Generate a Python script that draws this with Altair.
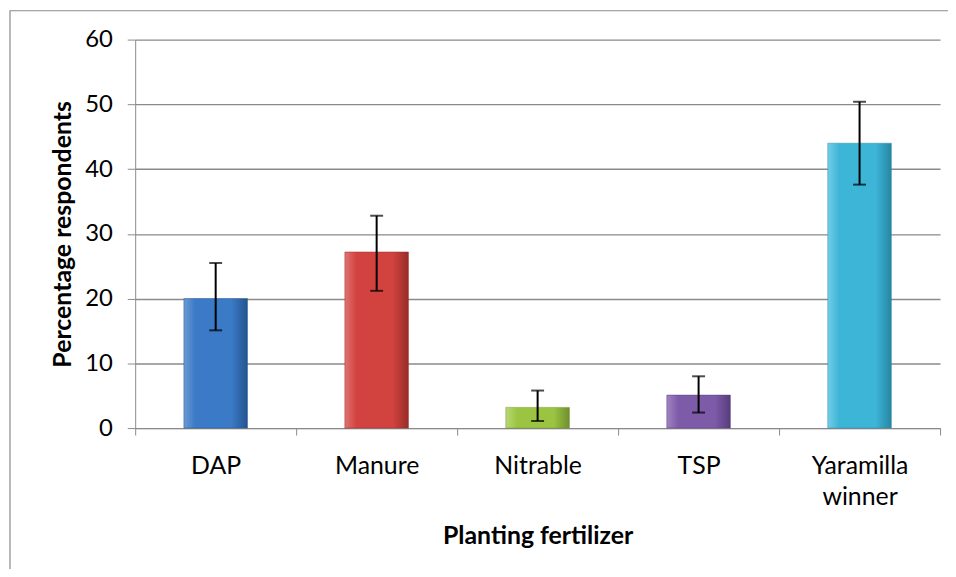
import altair as alt
import pandas as pd

categories = ["DAP", "Manure", "Nitrable", "TSP", "Yaramilla winner"]
values = [20.0, 27.2, 3.2, 5.1, 44.0]
err_low = [15.1, 21.2, 1.1, 2.4, 37.6]
err_high = [25.5, 32.8, 5.8, 8.0, 50.4]
colors = ["#3a7ac6", "#d2433f", "#9cc443", "#7e5ba9", "#3cb5d7"]
edge_light = ["#6b9ad3", "#e07370", "#b8d874", "#9f84c0", "#74cde6"]
edge_dark = ["#24548f", "#982c29", "#6f8f2c", "#573d7c", "#2786a2"]

df = pd.DataFrame({"cat": categories, "val": values, "lo": err_low, "hi": err_high})

FONT = "Lato"
GRAY = "#8a8a8a"

x_axis = alt.Axis(
    title="Planting fertilizer",
    labelAngle=0,
    labelExpr="split(datum.label, ' ')",
    labelFontSize=25,
    labelLineHeight=31,
    labelPadding=19,
    labelColor="#000000",
    labelFont=FONT,
    tickSize=7,
    tickBand="extent",
    tickColor=GRAY,
    domainColor=GRAY,
    titleFont=FONT,
    titleFontSize=25,
    titleFontWeight="bold",
    titleColor="#000000",
    titleY=108,
    titleBaseline="middle",
    grid=False,
)
x_scale = alt.Scale(domain=categories, paddingInner=0, paddingOuter=0)
y_scale = alt.Scale(domain=[0, 60], nice=False)

y_axis = alt.Axis(
    title="Percentage respondents",
    values=[0, 10, 20, 30, 40, 50, 60],
    labelFontSize=24,
    labelFont=FONT,
    labelColor="#000000",
    labelPadding=15,
    tickSize=8,
    tickColor=GRAY,
    domainColor=GRAY,
    gridColor=GRAY,
    gridWidth=1.4,
    titleFont=FONT,
    titleFontSize=25,
    titleFontWeight="bold",
    titleColor="#000000",
    titleX=-73,
    titleBaseline="middle",
)

layers = []
for i, c in enumerate(categories):
    grad = alt.Gradient(
        gradient="linear",
        stops=[
            alt.GradientStop(color=edge_light[i], offset=0),
            alt.GradientStop(color=colors[i], offset=0.18),
            alt.GradientStop(color=colors[i], offset=0.75),
            alt.GradientStop(color=edge_dark[i], offset=1),
        ],
        x1=0, x2=1, y1=0, y2=0,
    )
    layers.append(
        alt.Chart(df).transform_filter(alt.datum.cat == c).mark_bar(
            color=grad, width=64, stroke=edge_dark[i], strokeWidth=0.8, strokeOpacity=0.6
        ).encode(
            x=alt.X("cat:N", sort=categories, scale=x_scale, axis=x_axis),
            y=alt.Y("val:Q", scale=y_scale, axis=y_axis),
        )
    )

rules = alt.Chart(df).mark_rule(color="#000000", strokeWidth=2).encode(
    x=alt.X("cat:N", sort=categories, scale=x_scale),
    y=alt.Y("lo:Q", scale=y_scale),
    y2="hi:Q",
)

caps_hi = alt.Chart(df).mark_tick(color="#000000", thickness=2, size=13).encode(
    x=alt.X("cat:N", sort=categories, scale=x_scale),
    y=alt.Y("hi:Q", scale=y_scale),
)
caps_lo = alt.Chart(df).mark_tick(color="#000000", thickness=2, size=13).encode(
    x=alt.X("cat:N", sort=categories, scale=x_scale),
    y=alt.Y("lo:Q", scale=y_scale),
)

frame = alt.Chart(pd.DataFrame({"a": [0]})).mark_rect(
    fill=None, stroke=GRAY, strokeWidth=1.2, clip=False
).encode(
    x=alt.value(-126), x2=alt.value(840),
    y=alt.value(-29), y2=alt.value(560),
)

chart = alt.layer(frame, *layers, rules, caps_hi, caps_lo).properties(
    width=810,
    height=391,
    autosize=alt.AutoSizeParams(type="none"),
    padding={"left": 128, "top": 30, "right": 8, "bottom": 140},
).configure_view(stroke=None)

chart.save("out.html", embed_options={"renderer": "svg", "actions": False})
